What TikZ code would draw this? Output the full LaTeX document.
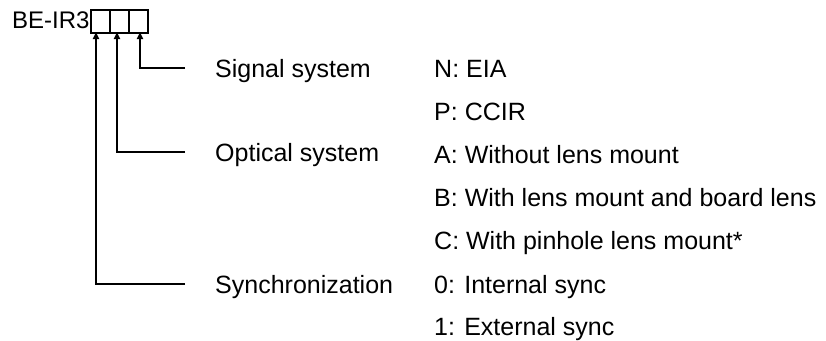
\documentclass[tikz,border=0pt]{standalone}
\usepackage{fontspec}
\setmainfont{Liberation Sans}
\usetikzlibrary{arrows.meta}
\begin{document}
\begin{tikzpicture}[x=1pt,y=-1pt,
  lbl/.style={anchor=base west,inner sep=0pt,font=\fontsize{25}{28}\selectfont},
  code/.style={anchor=base west,inner sep=0pt,font=\fontsize{24}{28}\selectfont},
  digit/.style={draw,line width=1.8pt,minimum width=19pt,minimum height=23pt,inner sep=0pt,anchor=north west},
  lead/.style={line width=1.6pt,-{Triangle[length=7pt,width=6pt]}}]
\useasboundingbox (0,0) rectangle (826,340);
\node[code] (code) at (12,28) {BE-IR3};
\node[digit] (b1) at (90,9) {};
\node[digit] (b2) at (109,9) {};
\node[digit] (b3) at (128,9) {};
\coordinate (a1) at (96,32);
\coordinate (a2) at (117,32);
\coordinate (a3) at (140,32);
\coordinate (h3) at (185,68);
\coordinate (h2) at (185,152);
\coordinate (h1) at (185,284);
\draw[lead] (h3) -| (a3);
\draw[lead] (h2) -| (a2);
\draw[lead] (h1) -| (a1);
\node[lbl] (s3) at (215,77) {Signal system};
\node[lbl] (s2) at (215,161) {Optical system};
\node[lbl] (s1) at (215,293) {Synchronization};
\node[lbl] (vN) at (434,77) {N: EIA};
\node[lbl] (vP) at (434,120) {P: CCIR};
\node[lbl] (vA) at (434,163) {A: Without lens mount};
\node[lbl] (vB) at (434,206) {B: With lens mount and board lens};
\node[lbl] (vC) at (434,249) {C: With pinhole lens mount*};
\node[lbl] (v0) at (434,293) {0: Internal sync};
\node[lbl] (v1) at (434,335) {1: External sync};
\end{tikzpicture}
\end{document}
